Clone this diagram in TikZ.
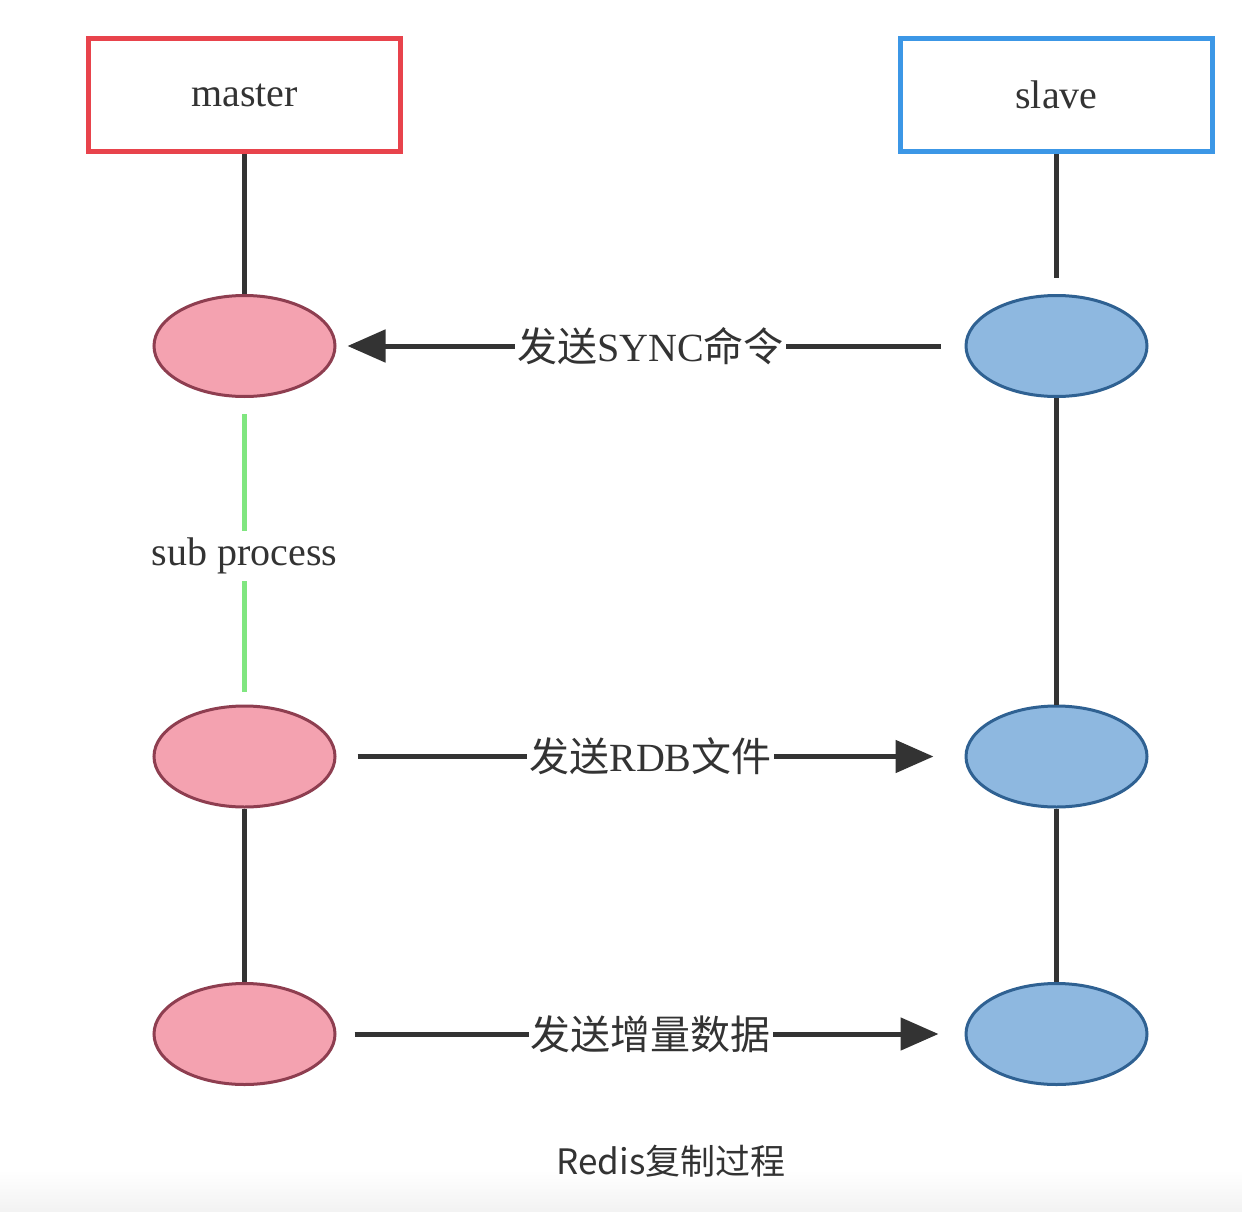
\documentclass[tikz,border=0pt]{standalone}
\usepackage{fontspec}
\setmainfont{Liberation Serif}
\newfontfamily\cjk{Noto Sans CJK SC}
\usetikzlibrary{arrows.meta,shapes.geometric}
\definecolor{boxred}{HTML}{E8434C}
\definecolor{boxblue}{HTML}{3C97E6}
\definecolor{pinkfill}{HTML}{F4A2B0}
\definecolor{pinkdraw}{HTML}{8E3E50}
\definecolor{bluefill}{HTML}{8EB8E0}
\definecolor{bluedraw}{HTML}{2F6192}
\definecolor{linegray}{HTML}{333333}
\definecolor{subgreen}{HTML}{80E680}
\definecolor{txt}{HTML}{333333}
\tikzset{
  hostbox/.style={rectangle, line width=5pt, minimum width=312pt, minimum height=113pt, fill=white, text=txt, font=\fontsize{40}{48}\selectfont},
  mstate/.style={ellipse, line width=3pt, draw=pinkdraw, fill=pinkfill, minimum width=181pt, minimum height=101pt, inner sep=0pt},
  sstate/.style={ellipse, line width=3pt, draw=bluedraw, fill=bluefill, minimum width=181pt, minimum height=101pt, inner sep=0pt},
  life/.style={draw=linegray, line width=5pt},
  msg/.style={draw=linegray, line width=5pt, -{Triangle[length=38pt,width=32pt]}},
  msglabel/.style={fill=white, text=txt, inner sep=2pt, font=\fontsize{40}{48}\selectfont},
}
\begin{document}
\begin{tikzpicture}[x=1pt,y=-1pt]
\fill[white] (0,0) rectangle (1242,1212);
\shade[top color=white, bottom color=black!5] (0,1170) rectangle (1242,1212);
\useasboundingbox (0,0) rectangle (1242,1212);

\node[hostbox, draw=boxred] (master) at (244.5,95) {master};
\node[hostbox, draw=boxblue] (slave) at (1056.5,95) {slave};

\node[mstate] (m1) at (244.5,346) {};
\node[mstate] (m2) at (244.5,756.5) {};
\node[mstate] (m3) at (244.5,1034) {};
\node[sstate] (s1) at (1056.5,346) {};
\node[sstate] (s2) at (1056.5,756.5) {};
\node[sstate] (s3) at (1056.5,1034) {};

% lifelines
\draw[life] (master.south) -- (m1.north);
\draw[life, shorten >=16pt] (slave.south) -- (s1.north);
\draw[life] (s1.south) -- (s2.north);
\draw[life] (m2.south) -- (m3.north);
\draw[life] (s2.south) -- (s3.north);
\draw[draw=subgreen, line width=5pt, shorten <=16pt, shorten >=13pt] (m1.south) -- node[fill=white, text=txt, inner sep=0pt, minimum height=50pt, yshift=-5pt, font=\fontsize{40}{48}\selectfont] (sub) {sub process} (m2.north);

% messages
\draw[msg, shorten <=24pt, shorten >=11pt] (s1.west) -- node[msglabel] (l1) {{\cjk 发送}SYNC{\cjk 命令}} (m1.east);
\draw[msg, shorten <=21pt, shorten >=31pt] (m2.east) -- node[msglabel] (l2) {{\cjk 发送}RDB{\cjk 文件}} (s2.west);
\draw[msg, shorten <=18pt, shorten >=26pt] (m3.east) -- node[msglabel] (l3) {\cjk 发送增量数据} (s3.west);

\node[text=txt, font=\cjk\fontsize{35}{40}\selectfont] (cap) at (671,1161) {Redis复制过程};
\end{tikzpicture}
\end{document}
